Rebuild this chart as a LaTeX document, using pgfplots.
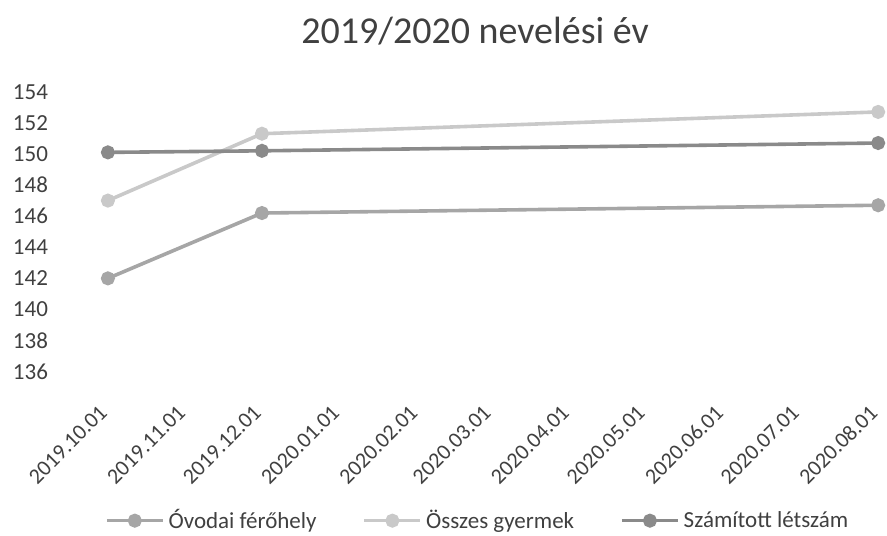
\documentclass[border=0pt]{standalone}
\usepackage{pgfplots}
\pgfplotsset{compat=1.18}
\usepackage{fontspec}
\setmainfont{Carlito}
\definecolor{cmed}{HTML}{A6A6A6}
\definecolor{clight}{HTML}{C9C9C9}
\definecolor{cdark}{HTML}{8A8A8A}
\definecolor{ctext}{HTML}{404040}
\begin{document}
\begin{tikzpicture}
\begin{axis}[
  name=ax,
  scale only axis,
  width=410pt, height=140pt,
  xmin=-16.2, xmax=308.5,
  ymin=136, ymax=154,
  axis line style={draw=none},
  major tick style={draw=none},
  ytick={136,138,...,154},
  xtick={0,31,61,92,123,152,183,213,244,274,305},
  xticklabels={2019.10.01,2019.11.01,2019.12.01,2020.01.01,2020.02.01,2020.03.01,2020.04.01,2020.05.01,2020.06.01,2020.07.01,2020.08.01},
  /pgf/number format/assume math mode=true,
  tick label style={font=\fontsize{11.5}{13}\selectfont, text=ctext},
  yticklabel style={anchor=east, xshift=-6pt},
  xticklabel style={rotate=45, anchor=east, font=\fontsize{11}{13}\selectfont, xshift=-11.4pt, yshift=-11.6pt},
  legend columns=3,
  legend style={draw=none, fill=none, font=\fontsize{11.5}{13}\selectfont, text=ctext,
    at={(0.502,-0.532)}, anchor=center, /tikz/every even column/.append style={column sep=21pt}},
  legend image code/.code={\draw[mark repeat=2,mark phase=2] plot coordinates {(0pt,0pt) (14pt,0pt) (28pt,0pt)};},
  clip=false,
]
\addplot[color=cmed, line width=1.8pt, mark=*, mark size=2.6pt, mark options={fill=cmed, draw=cmed}] coordinates {(0,142.0) (61,146.2) (305,146.7)};
\addlegendentry{Óvodai férőhely}
\addplot[color=clight, line width=1.8pt, mark=*, mark size=2.6pt, mark options={fill=clight, draw=clight}] coordinates {(0,147.0) (61,151.3) (305,152.7)};
\addlegendentry{Összes gyermek}
\addplot[color=cdark, line width=1.8pt, mark=*, mark size=2.6pt, mark options={fill=cdark, draw=cdark}] coordinates {(0,150.1) (61,150.2) (305,150.7)};
\addlegendentry{Számított létszám}
\node[anchor=base, font=\fontsize{19}{22}\selectfont, text=ctext] at (rel axis cs:0.4976,1) [yshift=24.35pt] {2019/2020 nevelési év};
\end{axis}
\pgfresetboundingbox
\path ([xshift=-33.5pt,yshift=-82pt]ax.south west) rectangle ([yshift=45.85pt]ax.north east);
\end{tikzpicture}
\end{document}
